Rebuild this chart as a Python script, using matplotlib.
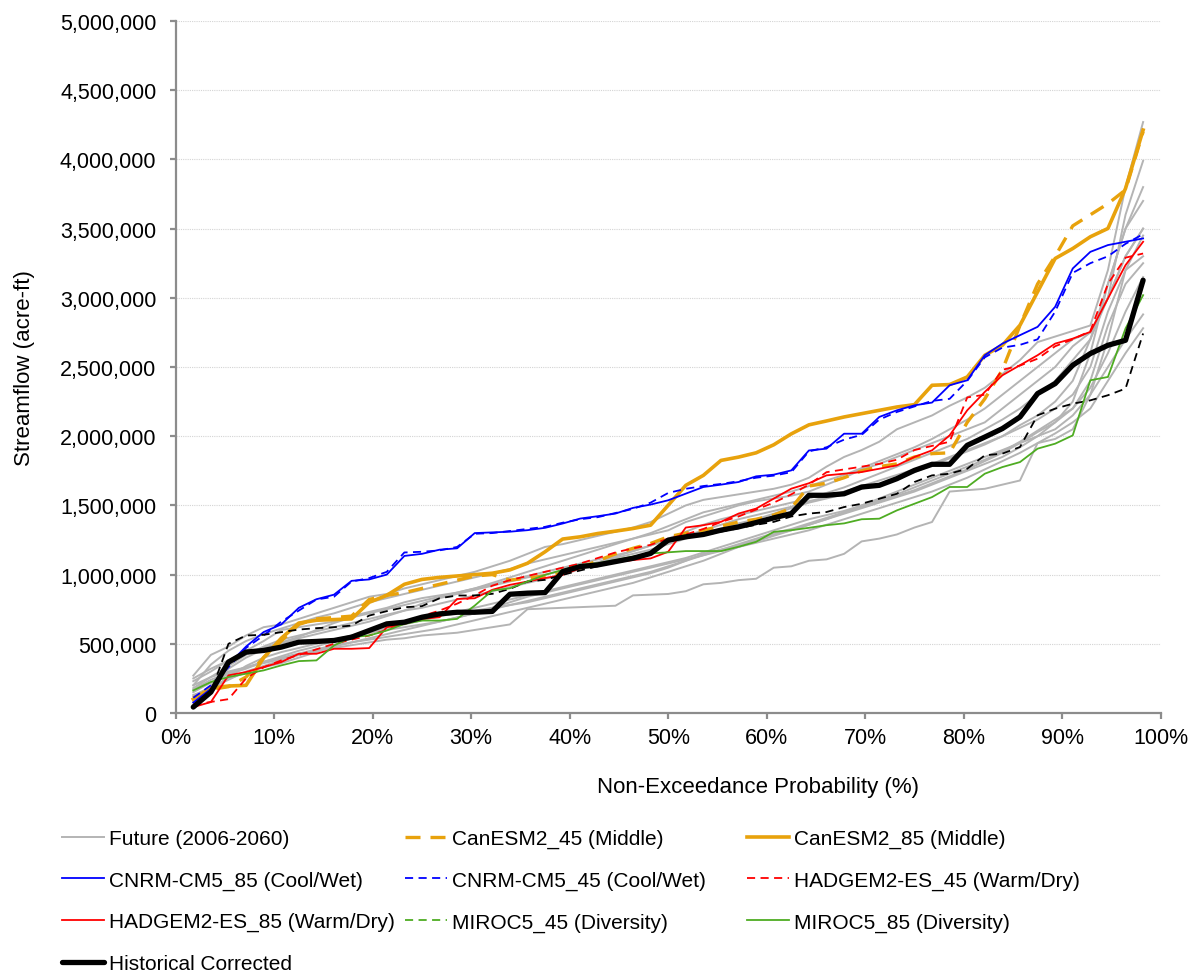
import numpy as np
import matplotlib
matplotlib.use("Agg")
import matplotlib.pyplot as plt
from matplotlib.lines import Line2D
from matplotlib.ticker import FuncFormatter, MultipleLocator

plt.rcParams['font.family'] = ['Liberation Sans', 'DejaVu Sans']

# ---------------- data (acre-ft, thousands) ----------------
historical = [43, 151, 368, 440, 452, 476, 512, 517, 524, 548, 596,
              644, 656, 692, 716, 728, 728, 734, 858, 866, 870, 1022,
              1058, 1070, 1094, 1118, 1153, 1249, 1273, 1290, 1321, 1345, 1376,
              1410, 1441, 1573, 1573, 1584, 1633, 1645, 1693, 1753, 1797, 1797,
              1934, 1994, 2055, 2139, 2308, 2380, 2513, 2597, 2657, 2693, 3127]

cnrm_85 = [75, 175, 350, 480, 585, 640, 760, 822, 855, 955, 965,
           1000, 1135, 1150, 1180, 1190, 1300, 1305, 1310, 1321, 1338, 1369,
           1405, 1422, 1441, 1482, 1506, 1537, 1585, 1633, 1650, 1669, 1710,
           1722, 1753, 1897, 1910, 2018, 2018, 2139, 2187, 2223, 2243, 2368,
           2404, 2585, 2669, 2730, 2790, 2935, 3212, 3332, 3381, 3405, 3429]

cnrm_45 = [110, 200, 330, 470, 560, 660, 740, 820, 840, 950, 975,
           1020, 1160, 1165, 1175, 1200, 1295, 1300, 1315, 1330, 1345, 1375,
           1400, 1415, 1445, 1475, 1520, 1590, 1620, 1640, 1655, 1675, 1700,
           1715, 1740, 1890, 1920, 1975, 2010, 2120, 2175, 2215, 2255, 2270,
           2400, 2570, 2640, 2660, 2700, 2900, 3180, 3250, 3300, 3390, 3460]

canesm_85 = [100, 180, 195, 200, 400, 540, 650, 670, 675, 680, 800,
             850, 930, 965, 980, 990, 1000, 1010, 1034, 1082, 1165, 1257,
             1273, 1297, 1314, 1333, 1357, 1501, 1645, 1717, 1825, 1849, 1880,
             1938, 2017, 2082, 2110, 2139, 2163, 2187, 2211, 2228, 2368, 2373,
             2428, 2585, 2657, 2802, 3043, 3284, 3356, 3441, 3501, 3790, 4212]

canesm_45 = [110, 170, 190, 260, 400, 520, 640, 680, 690, 700, 820,
             850, 870, 900, 930, 960, 990, 1000, 960, 975, 990, 1010,
             1050, 1100, 1150, 1190, 1225, 1273, 1300, 1320, 1350, 1380, 1400,
             1430, 1480, 1640, 1660, 1700, 1750, 1780, 1800, 1850, 1874, 1880,
             2100, 2270, 2480, 2800, 3100, 3300, 3520, 3600, 3680, 3780, 4200]

hadgem_85 = [43, 79, 272, 296, 332, 368, 428, 428, 464, 464, 469,
             620, 644, 680, 692, 824, 829, 890, 926, 950, 975, 998,
             1046, 1070, 1090, 1105, 1117, 1165, 1340, 1357, 1381, 1441, 1477,
             1549, 1621, 1660, 1717, 1729, 1741, 1765, 1789, 1850, 1898, 2006,
             2187, 2320, 2440, 2513, 2585, 2669, 2705, 2754, 2995, 3236, 3405]

hadgem_45 = [60, 80, 100, 250, 330, 380, 420, 460, 500, 530, 560,
             600, 650, 700, 740, 790, 850, 920, 960, 990, 1020, 1050,
             1080, 1120, 1160, 1190, 1215, 1260, 1290, 1330, 1380, 1420, 1470,
             1520, 1580, 1650, 1740, 1760, 1780, 1800, 1830, 1900, 1930, 1960,
             2280, 2300, 2480, 2510, 2560, 2650, 2700, 2760, 3100, 3290, 3320]

miroc_85 = [163, 224, 260, 284, 308, 344, 375, 380, 488, 548, 560,
            596, 644, 668, 668, 680, 776, 885, 901, 950, 998, 1034,
            1070, 1082, 1106, 1130, 1153, 1161, 1170, 1170, 1170, 1201, 1237,
            1309, 1321, 1338, 1357, 1370, 1400, 1404, 1464, 1512, 1560, 1633,
            1633, 1729, 1777, 1813, 1910, 1946, 2006, 2404, 2428, 2778, 3019]

miroc_45 = [55, 151, 500, 560, 565, 584, 603, 613, 620, 632, 704,
            736, 764, 772, 829, 849, 849, 861, 897, 950, 962, 998,
            1030, 1060, 1090, 1120, 1150, 1237, 1265, 1285, 1310, 1335, 1360,
            1381, 1420, 1441, 1452, 1488, 1512, 1548, 1584, 1669, 1717, 1729,
            1765, 1862, 1874, 1922, 2151, 2199, 2235, 2259, 2296, 2344, 2742]

future_1 = [180, 260, 300, 330, 360, 390, 420, 450, 470, 490, 510,
            530, 540, 560, 570, 580, 600, 620, 640, 750, 755, 760,
            765, 770, 775, 850, 855, 860, 880, 930, 940, 960, 970,
            1050, 1060, 1100, 1110, 1150, 1240, 1260, 1290, 1340, 1380, 1600,
            1610, 1620, 1650, 1680, 1950, 1980, 2050, 2300, 2500, 2700, 2880]
future_2 = [270, 420, 480, 560, 620, 640, 680, 720, 760, 800, 840,
            860, 900, 930, 960, 990, 1020, 1060, 1100, 1150, 1200, 1220,
            1250, 1280, 1310, 1340, 1380, 1440, 1500, 1540, 1560, 1580, 1600,
            1620, 1650, 1700, 1780, 1850, 1900, 1960, 2050, 2100, 2150, 2220,
            2280, 2350, 2450, 2550, 2680, 2720, 2760, 2800, 3200, 3800, 4270]
future_3 = [230, 300, 380, 450, 520, 600, 620, 640, 660, 700, 730,
            760, 800, 830, 850, 870, 900, 940, 980, 1020, 1060, 1100,
            1140, 1180, 1220, 1260, 1290, 1320, 1380, 1420, 1460, 1500, 1530,
            1550, 1570, 1600, 1650, 1700, 1760, 1800, 1850, 1900, 1950, 2000,
            2050, 2100, 2200, 2300, 2400, 2500, 2650, 2750, 3000, 3600, 3990]
future_4 = [150, 220, 280, 320, 370, 410, 450, 480, 520, 560, 590,
            620, 650, 680, 700, 720, 740, 760, 780, 800, 830, 860,
            890, 920, 950, 980, 1010, 1050, 1100, 1150, 1180, 1210, 1250,
            1290, 1320, 1360, 1400, 1440, 1480, 1520, 1560, 1600, 1650, 1700,
            1750, 1800, 1850, 1920, 2000, 2100, 2250, 2600, 3100, 3500, 3800]
future_5 = [100, 200, 320, 400, 460, 500, 540, 570, 600, 630, 660,
            700, 740, 790, 830, 860, 890, 920, 950, 980, 1000, 1030,
            1060, 1090, 1130, 1170, 1210, 1250, 1280, 1320, 1360, 1400, 1430,
            1460, 1490, 1530, 1560, 1600, 1640, 1680, 1720, 1760, 1800, 1850,
            1900, 1950, 2000, 2080, 2150, 2250, 2400, 2700, 3000, 3300, 3500]
future_6 = [200, 260, 340, 420, 480, 530, 560, 590, 620, 650, 680,
            710, 740, 760, 790, 820, 850, 880, 910, 940, 970, 1000,
            1040, 1080, 1120, 1150, 1180, 1220, 1260, 1300, 1330, 1370, 1400,
            1440, 1480, 1520, 1550, 1580, 1620, 1650, 1700, 1740, 1790, 1840,
            1890, 1940, 2000, 2060, 2120, 2200, 2300, 2500, 2900, 3200, 3300]
future_7 = [130, 180, 240, 300, 340, 380, 420, 450, 480, 510, 540,
            570, 600, 630, 660, 690, 720, 750, 780, 810, 840, 870,
            900, 930, 960, 990, 1020, 1060, 1100, 1140, 1180, 1220, 1260,
            1300, 1330, 1370, 1410, 1450, 1490, 1530, 1570, 1610, 1660, 1710,
            1760, 1820, 1880, 1950, 2030, 2100, 2200, 2400, 2800, 3100, 3250]
future_8 = [170, 240, 290, 330, 370, 400, 430, 460, 490, 510, 530,
            550, 570, 590, 610, 640, 670, 700, 730, 760, 790, 820,
            850, 880, 910, 940, 980, 1020, 1060, 1100, 1150, 1200, 1240,
            1280, 1320, 1360, 1400, 1450, 1500, 1550, 1600, 1650, 1700, 1750,
            1800, 1850, 1900, 1950, 2000, 2050, 2150, 2300, 2700, 3200, 3450]
future_9 = [200, 350, 450, 520, 570, 610, 650, 690, 720, 760, 800,
            830, 860, 890, 920, 950, 980, 1010, 1040, 1080, 1110, 1140,
            1170, 1200, 1230, 1260, 1300, 1350, 1400, 1450, 1480, 1510, 1540,
            1570, 1600, 1640, 1680, 1720, 1770, 1820, 1870, 1920, 1980, 2050,
            2120, 2200, 2300, 2400, 2500, 2600, 2700, 2750, 3000, 3300, 3500]
future_10 = [80, 160, 260, 340, 400, 440, 470, 500, 530, 560, 580,
             600, 620, 640, 660, 690, 720, 760, 800, 840, 870, 900,
             930, 960, 990, 1020, 1050, 1080, 1110, 1140, 1170, 1200, 1230,
             1260, 1290, 1320, 1360, 1400, 1440, 1480, 1520, 1560, 1600, 1650,
             1700, 1760, 1820, 1880, 1950, 2020, 2100, 2200, 2400, 2600, 2780]
future_11 = [250, 320, 380, 430, 470, 510, 550, 600, 650, 690, 720,
             750, 780, 810, 840, 870, 900, 930, 960, 990, 1020, 1050,
             1080, 1110, 1140, 1170, 1210, 1260, 1310, 1360, 1400, 1430, 1460,
             1490, 1520, 1550, 1590, 1630, 1680, 1730, 1780, 1830, 1880, 1930,
             1980, 2050, 2120, 2200, 2300, 2400, 2550, 2700, 3100, 3500, 3700]
future_12 = [120, 190, 250, 290, 330, 360, 400, 440, 490, 540, 580,
             610, 640, 670, 700, 730, 760, 790, 820, 850, 880, 910,
             940, 970, 1000, 1030, 1060, 1090, 1120, 1160, 1200, 1240, 1280,
             1320, 1360, 1400, 1430, 1460, 1500, 1540, 1580, 1630, 1680, 1730,
             1780, 1830, 1890, 1960, 2040, 2120, 2200, 2350, 2600, 2900, 3150]

future_runs = [future_1, future_2, future_3, future_4, future_5, future_6,
               future_7, future_8, future_9, future_10, future_11, future_12]

x_ticks = [0, 10, 20, 30, 40, 50, 60, 70, 80, 90, 100]


def prob(vals):
    n = len(vals)
    return np.arange(1, n + 1) / (n + 1) * 100.0


def kaf(vals):
    return np.asarray(vals, dtype=float) * 1000.0


# ---------------- figure ----------------
W, H = 1190, 978
fig = plt.figure(figsize=(W / 100, H / 100), dpi=100)
ax = fig.add_axes([175.7 / W, 1 - 714 / H, 985 / W, 692 / H])

GRAY = '#b4b4b4'
ORANGE = '#e8a20c'
BLUE = '#0000ff'
RED = '#ff0000'
GREEN = '#4eac22'

handles = {}
for k, run in enumerate(future_runs):
    ln, = ax.plot(prob(run), kaf(run), color=GRAY, lw=1.4, zorder=2)
    if k == 0:
        handles['Future (2006-2060)'] = ln

h, = ax.plot(prob(canesm_45), kaf(canesm_45), color=ORANGE, lw=2.4,
             dashes=(4.5, 3), zorder=3)
handles['CanESM2_45 (Middle)'] = h
h, = ax.plot(prob(canesm_85), kaf(canesm_85), color=ORANGE, lw=2.6, zorder=3)
handles['CanESM2_85 (Middle)'] = h
h, = ax.plot(prob(cnrm_85), kaf(cnrm_85), color=BLUE, lw=1.3, zorder=4)
handles['CNRM-CM5_85 (Cool/Wet)'] = h
h, = ax.plot(prob(cnrm_45), kaf(cnrm_45), color=BLUE, lw=1.3,
             dashes=(4.5, 3), zorder=4)
handles['CNRM-CM5_45 (Cool/Wet)'] = h
h, = ax.plot(prob(hadgem_45), kaf(hadgem_45), color=RED, lw=1.3,
             dashes=(4.5, 3), zorder=4)
handles['HADGEM2-ES_45 (Warm/Dry)'] = h
h, = ax.plot(prob(hadgem_85), kaf(hadgem_85), color=RED, lw=1.3, zorder=4)
handles['HADGEM2-ES_85 (Warm/Dry)'] = h
ax.plot(prob(miroc_45), kaf(miroc_45), color='black', lw=1.3,
        dashes=(4.5, 3), zorder=4)
handles['MIROC5_45 (Diversity)'] = Line2D([], [], color=GREEN, lw=1.3,
                                          dashes=(4.5, 3))
h, = ax.plot(prob(miroc_85), kaf(miroc_85), color=GREEN, lw=1.3, zorder=4)
handles['MIROC5_85 (Diversity)'] = h
h, = ax.plot(prob(historical), kaf(historical), color='black', lw=3.8,
             zorder=5, solid_capstyle='round')
handles['Historical Corrected'] = h

# ---------------- axes styling ----------------
ax.set_xlim(0, 100)
ax.set_ylim(0, 5_000_000)
ax.set_xticks(x_ticks)
ax.xaxis.set_major_formatter(FuncFormatter(lambda v, p: f"{v:.0f}%"))
ax.yaxis.set_major_locator(MultipleLocator(500_000))
ax.yaxis.set_major_formatter(FuncFormatter(lambda v, p: f"{v:,.0f}"))
ax.grid(axis='y', color='#d4d4d4', lw=0.8, ls=(0, (1, 1)), zorder=0)
ax.set_axisbelow(True)
for s in ['top', 'right']:
    ax.spines[s].set_visible(False)
for s in ['left', 'bottom']:
    ax.spines[s].set_color('#8c8c8c')
    ax.spines[s].set_linewidth(1.6)
ax.tick_params(axis='both', colors='#8c8c8c', width=1.6, length=4,
               labelcolor='black', labelsize=15.5)
ax.tick_params(axis='x', pad=6)
ax.tick_params(axis='y', pad=10)

ax.set_xlabel('Non-Exceedance Probability (%)', fontsize=16)
ax.xaxis.set_label_coords((758 - 175.7) / 985, -(787 - 714) / 692)
ax.xaxis.label.set_verticalalignment('center')
ax.set_ylabel('Streamflow (acre-ft)', fontsize=16)
ax.yaxis.set_label_coords(-(175.7 - 25) / 985, 0.5)
ax.yaxis.label.set_verticalalignment('center')

# ---------------- legend (three columns, row-wise order) ----------------
cols = [
    ['Future (2006-2060)', 'CNRM-CM5_85 (Cool/Wet)',
     'HADGEM2-ES_85 (Warm/Dry)', 'Historical Corrected'],
    ['CanESM2_45 (Middle)', 'CNRM-CM5_45 (Cool/Wet)', 'MIROC5_45 (Diversity)'],
    ['CanESM2_85 (Middle)', 'HADGEM2-ES_45 (Warm/Dry)', 'MIROC5_85 (Diversity)'],
]
col_x = [62 / W, 405 / W, 747 / W]
for labels, cx in zip(cols, col_x):
    fig.legend([handles[l] for l in labels], labels,
               loc='upper left', bbox_to_anchor=(cx, 1 - 830 / H),
               frameon=False, fontsize=15, handlelength=2.0,
               handletextpad=0.25, labelspacing=1.08, borderpad=0,
               borderaxespad=0)

fig.savefig('out.png', dpi=100)
